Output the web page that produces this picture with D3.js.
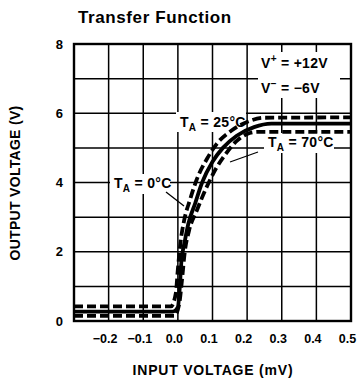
<!DOCTYPE html>
<html><head><meta charset="utf-8">
<script src="https://cdn.jsdelivr.net/npm/d3@7"></script>
<style>
body{margin:0;background:#fff;}
text{font-family:"Liberation Sans",Arial,sans-serif;font-weight:bold;fill:#000;}
</style></head><body>
<svg id="c" width="357" height="383"></svg>
<script>
const xTicks = [-0.2,-0.1,0.0,0.1,0.2,0.3,0.4,0.5];
const xTickLabels = ["\u22120.2","\u22120.1","0.0","0.1","0.2","0.3","0.4","0.5"];
const yTicks = [0,2,4,6,8];
const t0x = [-0.3,-0.02,-0.006,0.0,0.008,0.018,0.035,0.055,0.085,0.115,0.155,0.2,0.25,0.5];
const t0y = [0.42,0.42,0.8,1.5,2.3,2.9,3.5,4.1,4.7,5.15,5.5,5.75,5.87,5.88];
const t25x = [-0.3,-0.015,0.0,0.005,0.01,0.02,0.03,0.05,0.07,0.1,0.13,0.17,0.22,0.27,0.5];
const t25y = [0.27,0.27,0.4,0.9,1.7,2.3,2.8,3.4,4.0,4.6,5.0,5.35,5.6,5.7,5.7];
const t70x = [-0.3,-0.01,0.004,0.012,0.02,0.032,0.055,0.08,0.11,0.14,0.17,0.2,0.23,0.5];
const t70y = [0.15,0.15,0.5,1.2,2.0,2.6,3.2,3.8,4.4,4.85,5.2,5.4,5.46,5.46];

const svg = d3.select("#c");
const x = d3.scaleLinear().domain([-0.3,0.5]).range([74,351]);
const y = d3.scaleLinear().domain([0,8]).range([321,44]);

// grid
const g = svg.append("g");
g.selectAll(".vx").data(d3.range(-0.2,0.45,0.1)).enter().append("line")
 .attr("x1",d=>x(d)).attr("x2",d=>x(d)).attr("y1",y(0)).attr("y2",y(8))
 .attr("stroke","#000").attr("stroke-width",1.5);
g.selectAll(".hy").data(d3.range(1,8,1)).enter().append("line")
 .attr("y1",d=>y(d)).attr("y2",d=>y(d)).attr("x1",x(-0.3)).attr("x2",x(0.5))
 .attr("stroke","#000").attr("stroke-width",1.5);
svg.append("rect").attr("x",x(-0.3)).attr("y",y(8)).attr("width",x(0.5)-x(-0.3)).attr("height",y(0)-y(8))
 .attr("fill","none").attr("stroke","#000").attr("stroke-width",2.4);

// axes
const xa = svg.append("g").attr("transform",`translate(-4,${y(0)})`)
 .call(d3.axisBottom(x).tickValues(xTicks).tickFormat((d,i)=>xTickLabels[i]).tickSize(0).tickPadding(13));
xa.select(".domain").remove();
xa.selectAll("text").attr("font-size",12.5).style("font-family","Liberation Sans, Arial").style("font-weight","bold");
const ya = svg.append("g").attr("transform",`translate(${x(-0.3)},0)`)
 .call(d3.axisLeft(y).tickValues(yTicks).tickSize(0).tickPadding(11));
ya.select(".domain").remove();
ya.selectAll("text").attr("font-size",13).style("font-family","Liberation Sans, Arial").style("font-weight","bold");

// label backgrounds (white boxes over grid)
const boxes = [[258,52,82,46],[176,112,70,20],[264,133,70,20],[110,174,60,20]];
svg.selectAll(".bx").data(boxes).enter().append("rect")
 .attr("x",d=>d[0]).attr("y",d=>d[1]).attr("width",d=>d[2]).attr("height",d=>d[3]).attr("fill","#fff");

// curves
const line = d3.line().x(d=>x(d[0])).y(d=>y(d[1])).curve(d3.curveMonotoneX);
const series = [
 {xs:t0x, ys:t0y, dash:"9,4"},
 {xs:t25x, ys:t25y, dash:null},
 {xs:t70x, ys:t70y, dash:"9,4"}
];
series.forEach(s=>{
 const p = svg.append("path").datum(s.xs.map((v,i)=>[v,s.ys[i]])).attr("d",line)
  .attr("fill","none").attr("stroke","#000").attr("stroke-width",3.8);
 if(s.dash) p.attr("stroke-dasharray",s.dash);
});

// arrows
svg.append("line").attr("x1",166).attr("y1",192).attr("x2",184).attr("y2",206).attr("stroke","#000").attr("stroke-width",1.3);
svg.append("line").attr("x1",258).attr("y1",152).attr("x2",230).attr("y2",162).attr("stroke","#000").attr("stroke-width",1.3);

// annotations
function ta(xp,yp,temp){
 const t = svg.append("text").attr("x",xp).attr("y",yp).attr("font-size",14).attr("letter-spacing",0.3);
 t.append("tspan").text("T");
 t.append("tspan").attr("font-size",10).attr("dy",4).text("A");
 t.append("tspan").attr("dy",-4).text(" = "+temp+"\u00B0C");
}
ta(180,127,"25");
ta(268,147,"70");
ta(114,188,"0");
const v1 = svg.append("text").attr("x",261).attr("y",68).attr("font-size",14).attr("letter-spacing",0.3);
v1.append("tspan").text("V");
v1.append("tspan").attr("font-size",10).attr("dy",-6).text("+");
v1.append("tspan").attr("dy",6).text(" = +12V");
const v2 = svg.append("text").attr("x",261).attr("y",93).attr("font-size",14).attr("letter-spacing",0.3);
v2.append("tspan").text("V");
v2.append("tspan").attr("font-size",10).attr("dy",-6).text("\u2212");
v2.append("tspan").attr("dy",6).text(" = \u22126V");

// titles
svg.append("text").attr("x",78).attr("y",23).attr("font-size",17).attr("letter-spacing",0.6).text("Transfer Function");
svg.append("text").attr("x",213).attr("y",375).attr("text-anchor","middle").attr("font-size",14).attr("letter-spacing",0.8).text("INPUT VOLTAGE (mV)");
svg.append("text").attr("transform","translate(20,183) rotate(-90)").attr("text-anchor","middle").attr("font-size",14).attr("letter-spacing",0.3).text("OUTPUT VOLTAGE (V)");
</script></body></html>
